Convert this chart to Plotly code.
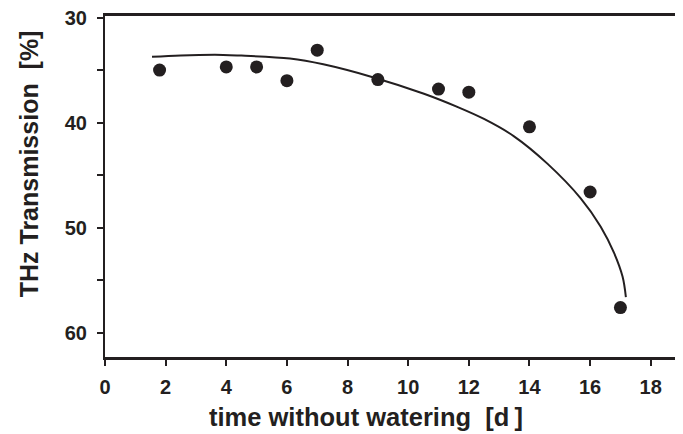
import plotly.graph_objects as go

days = [1.8, 4, 5, 6, 7, 9, 11, 12, 14, 16, 17]
transmission = [35.0, 34.7, 34.7, 36.0, 33.1, 35.9, 36.8, 37.1, 40.4, 46.6, 57.6]

fit_days = [1.55, 2.5, 3.9, 4.5, 6.1, 7.2, 8.86, 10.52, 11.62, 12.5, 13.49,
            14.59, 15.69, 16.35, 16.79, 17.07, 17.18]
fit_trans = [33.73, 33.6, 33.55, 33.62, 33.9, 34.45, 35.7, 37.25, 38.5, 39.65, 41.3,
             43.9, 47.2, 49.9, 52.4, 54.65, 56.6]

y_tickvals = [30, 35, 40, 45, 50, 55, 60]
y_ticktext = ["30", "", "40", "", "50", "", "60"]
x_tickvals = [0, 2, 4, 6, 8, 10, 12, 14, 16, 18]

x_title = "time without watering\u00a0\u00a0[d\u2009]"
y_title = "THz Transmission\u00a0\u00a0[%]"

ink = "#231f20"
tfont = "Liberation Sans, Arial, sans-serif"

fig = go.Figure()
fig.add_trace(go.Scatter(x=fit_days, y=fit_trans, mode="lines",
                         line=dict(color=ink, width=2, shape="spline", smoothing=1.0),
                         hoverinfo="skip", showlegend=False))
fig.add_trace(go.Scatter(x=days, y=transmission, mode="markers",
                         marker=dict(color=ink, size=13), showlegend=False))

fig.update_layout(
    width=675, height=426,
    margin=dict(l=97, r=8, t=8, b=77),
    paper_bgcolor="white", plot_bgcolor="white",
    font=dict(family=tfont, size=18, color=ink),
    xaxis=dict(range=[0, 18.8], tickvals=x_tickvals, ticks="outside", ticklen=6,
               tickwidth=1.5, tickcolor=ink, showline=True, linecolor=ink, linewidth=2.5,
               mirror=True, showgrid=False, zeroline=False, automargin=False,
               tickfont=dict(family=tfont, size=20, color=ink, weight="bold"),
               ticklabelstandoff=4, ticklabeloverflow="allow"),
    yaxis=dict(range=[62.3, 29.85], tickvals=y_tickvals, ticktext=y_ticktext,
               ticks="outside", ticklen=6, tickwidth=1.5, tickcolor=ink,
               showline=True, linecolor=ink, linewidth=2, mirror=True,
               showgrid=False, zeroline=False, automargin=False,
               tickfont=dict(family=tfont, size=20, color=ink, weight="bold"),
               ticklabelstandoff=6, ticklabeloverflow="allow"),
    annotations=[
        dict(text=x_title, xref="paper", yref="paper", x=0.458, y=-0.176,
             xanchor="center", yanchor="middle", showarrow=False,
             font=dict(family=tfont, size=25.5, color=ink, weight="bold")),
        dict(text=y_title, xref="paper", yref="paper", x=-0.134, y=0.567,
             xanchor="center", yanchor="middle", showarrow=False, textangle=-90,
             font=dict(family=tfont, size=25, color=ink, weight="bold")),
    ],
)

fig.write_html("out.html")
